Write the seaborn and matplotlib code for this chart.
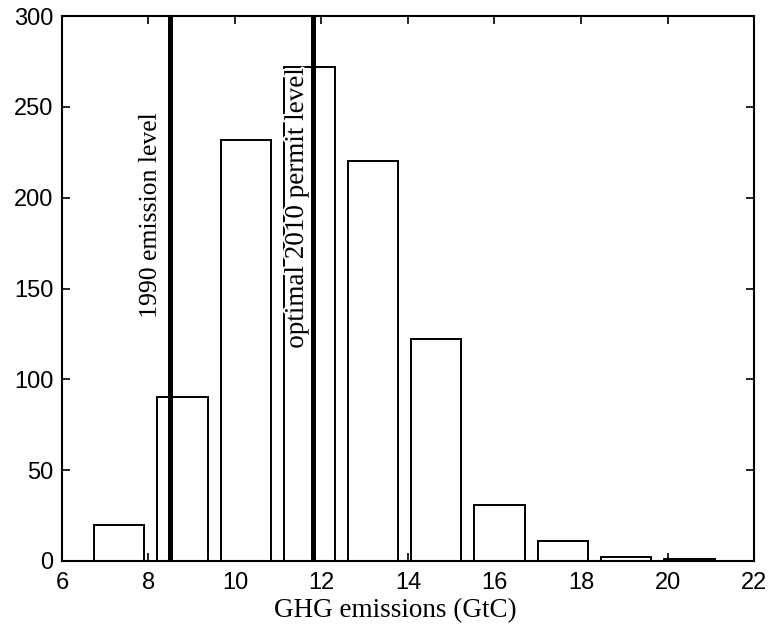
import matplotlib
matplotlib.use("Agg")
import matplotlib.pyplot as plt
import matplotlib.patheffects as pe
import seaborn as sns

# histogram of simulated 2010 GHG emissions
bin_centers = [7.32, 8.79, 10.26, 11.72, 13.19, 14.65, 16.11, 17.58, 19.04, 20.51]
counts = [20, 90, 232, 272, 220, 122, 31, 11, 2, 1]

# reference levels
ref_levels = [8.5, 11.8]
ref_labels = ["1990 emission level", "optimal 2010 permit level"]
label_x = [8.03, 11.42]
label_y = [190, 194]
label_size = [18.5, 19.5]

sns.set_style("ticks")
plt.rcParams["font.family"] = ["Liberation Sans", "DejaVu Sans"]
plt.rcParams["text.color"] = "black"
plt.rcParams["axes.labelcolor"] = "black"
serif = ["Liberation Serif", "DejaVu Serif"]

fig = plt.figure(figsize=(7.69, 6.28), dpi=100)
ax = fig.add_axes([0.0806, 0.1067, 0.8999, 0.8678])

sns.barplot(
    ax=ax,
    x=bin_centers,
    y=counts,
    native_scale=True,
    width=0.8,
    color="white",
    saturation=1,
    edgecolor="black",
    linewidth=1.4,
)

for lvl in ref_levels:
    ax.axvline(lvl, color="black", linewidth=3.6, zorder=3)

for tx, ty, txt, fs in zip(label_x, label_y, ref_labels, label_size):
    ax.text(
        tx, ty, txt,
        rotation=90, ha="center", va="center", color="black",
        family=serif, fontsize=fs,
        path_effects=[pe.withStroke(linewidth=3, foreground="white")],
        zorder=4,
    )

ax.set_xlim(6, 22)
ax.set_ylim(0, 300)
ax.set_xticks(range(6, 23, 2))
ax.set_yticks(range(0, 301, 50))
ax.tick_params(direction="in", length=6, width=1.2, top=True, right=True,
               labelsize=17, colors="black")
ax.tick_params(axis="x", pad=8)
ax.tick_params(axis="y", pad=6)
for sp in ax.spines.values():
    sp.set_visible(True)
    sp.set_linewidth(1.5)
    sp.set_color("black")

ax.set_xlabel("GHG emissions (GtC)", family=serif, fontsize=19.5, color="black")
ax.xaxis.set_label_coords(0.481, -0.068)
ax.set_ylabel("")

fig.savefig("out.png", dpi=100)
